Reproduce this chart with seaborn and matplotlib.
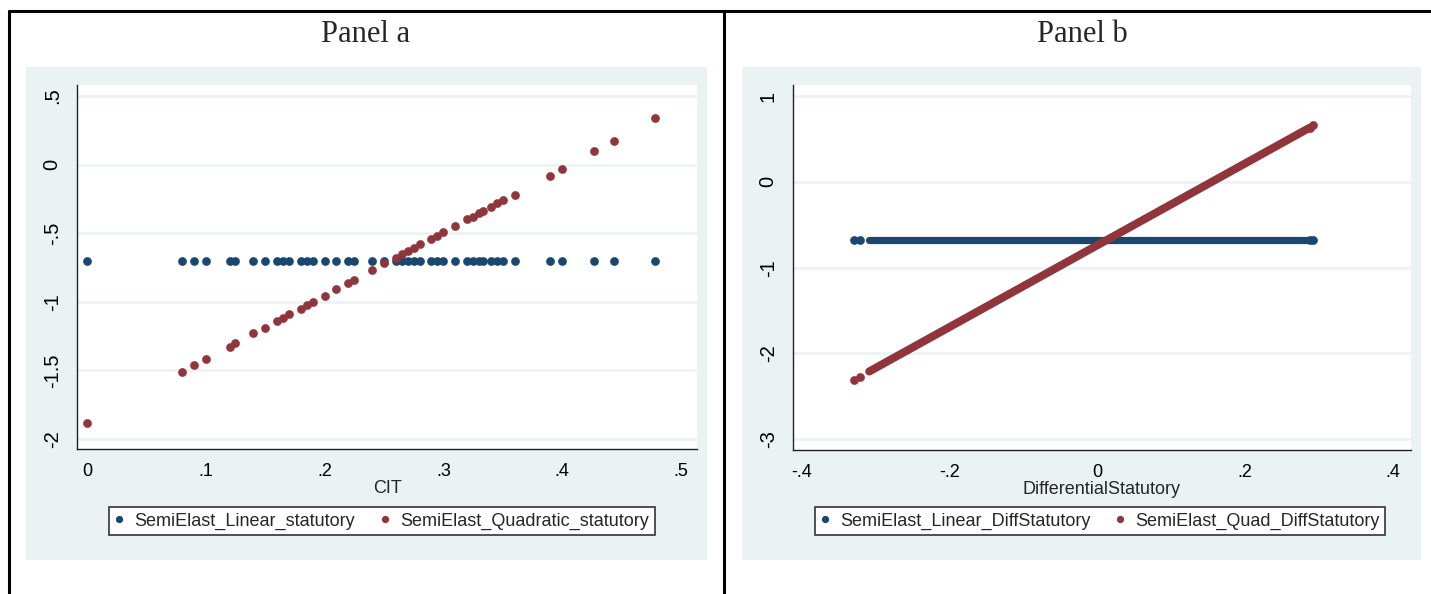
import numpy as np
import pandas as pd
import matplotlib
matplotlib.use("Agg")
import matplotlib.pyplot as plt
from matplotlib import font_manager
from matplotlib.patches import Rectangle
from matplotlib.lines import Line2D
import seaborn as sns

# ---- Panel a data (CIT vs semi-elasticities) ----
cit = [0, 0.08, 0.09, 0.10, 0.12, 0.125, 0.14, 0.15, 0.16, 0.165, 0.17, 0.18,
       0.185, 0.19, 0.20, 0.21, 0.22, 0.225, 0.24, 0.25, 0.26, 0.265, 0.27,
       0.275, 0.28, 0.29, 0.295, 0.30, 0.31, 0.32, 0.325, 0.33, 0.333, 0.34,
       0.345, 0.35, 0.36, 0.39, 0.40, 0.427, 0.444, 0.478]
semi_linear_stat = [-0.70] * len(cit)
semi_quad_stat = [-1.88, -1.51, -1.46, -1.42, -1.33, -1.30, -1.23, -1.19, -1.14,
                  -1.12, -1.09, -1.05, -1.02, -1.00, -0.96, -0.91, -0.86, -0.84,
                  -0.77, -0.72, -0.68, -0.65, -0.63, -0.61, -0.58, -0.54, -0.52,
                  -0.49, -0.45, -0.40, -0.38, -0.35, -0.34, -0.31, -0.28, -0.26,
                  -0.22, -0.08, -0.03, 0.10, 0.17, 0.34]

# ---- Panel b data (DifferentialStatutory) ----
# isolated observations at the ends of the range
diff_pts = [-0.329, -0.321, 0.287, 0.292]
semi_linear_diff_pts = [-0.68, -0.68, -0.68, -0.68]
semi_quad_diff_pts = [-2.31, -2.28, 0.63, 0.66]
# dense run of observations (drawn as a band between first and last)
diff_band = [-0.308, 0.287]
semi_linear_diff_band = [-0.68, -0.68]
semi_quad_diff_band = [-2.21, 0.63]

xticks_a = [0, 0.1, 0.2, 0.3, 0.4, 0.5]
xticklabels_a = ["0", ".1", ".2", ".3", ".4", ".5"]
yticks_a = [0.5, 0, -0.5, -1, -1.5, -2]
yticklabels_a = [".5", "0", "-.5", "-1", "-1.5", "-2"]
xticks_b = [-0.4, -0.2, 0, 0.2, 0.4]
xticklabels_b = ["-.4", "-.2", "0", ".2", ".4"]
yticks_b = [1, 0, -1, -2, -3]
yticklabels_b = ["1", "0", "-1", "-2", "-3"]

NAVY = "#1A476F"
MAROON = "#90353B"
BG = "#EAF2F3"
GRID = "#EAF2F3"

sns.set_style("white")
plt.rcParams["font.family"] = ["Liberation Sans", "DejaVu Sans"]

# the reference text looks tall and narrow: use the narrow cut if present
names = {f.name for f in font_manager.fontManager.ttflist}
if "Liberation Sans Narrow" in names:
    HFONT = ["Liberation Sans Narrow", "Liberation Sans", "DejaVu Sans"]
    HSIZE = 15
else:
    HFONT = ["Liberation Sans", "DejaVu Sans"]
    HSIZE = 13
VSIZE = 14.5

W, H = 1431, 594
fig = plt.figure(figsize=(W / 100, H / 100), dpi=100)
fig.patch.set_facecolor("white")


def rect(x0, y0, x1, y1):
    return [x0 / W, 1 - y1 / H, (x1 - x0) / W, (y1 - y0) / H]


# table borders
for xs, ys in [([9 / W, 9 / W], [0, 1 - 11 / H]),
               ([724 / W, 724 / W], [0, 1 - 11 / H]),
               ([9 / W, 1], [1 - 11 / H, 1 - 11 / H])]:
    fig.add_artist(Line2D(xs, ys, color="black", lw=2.2, transform=fig.transFigure))

# graph regions
for x0, x1 in [(26, 707), (742, 1421)]:
    r = rect(x0, 67, x1, 560)
    fig.add_artist(Rectangle((r[0], r[1]), r[2], r[3], facecolor=BG,
                             edgecolor="none", transform=fig.transFigure, zorder=0))

fig.text(366 / W, 1 - 34 / H, "Panel a", ha="center", va="center",
         fontsize=22, family=["Liberation Serif", "DejaVu Serif"])
fig.text(1082 / W, 1 - 34 / H, "Panel b", ha="center", va="center",
         fontsize=22, family=["Liberation Serif", "DejaVu Serif"])


def style_axes(ax, xlim, ylim, xt, xtl, yt, ytl, xlabel):
    ax.set_facecolor("white")
    ax.set_xlim(*xlim)
    ax.set_ylim(*ylim)
    ax.set_xticks(xt)
    ax.set_xticklabels(xtl, family=HFONT, fontsize=HSIZE)
    ax.set_yticks(yt)
    ax.set_yticklabels(ytl, rotation=90, va="center", fontsize=VSIZE)
    ax.yaxis.grid(True, color=GRID, lw=1.8)
    ax.xaxis.grid(False)
    ax.set_axisbelow(True)
    for s in ["top", "right"]:
        ax.spines[s].set_visible(False)
    for s in ["left", "bottom"]:
        ax.spines[s].set_color("#222222")
        ax.spines[s].set_linewidth(1.0)
    ax.tick_params(axis="both", direction="out", length=6, width=1.0,
                   color="#222222", labelcolor="black")
    ax.tick_params(axis="y", pad=5)
    ax.tick_params(axis="x", pad=4)
    ax.set_xlabel(xlabel, fontsize=HSIZE, family=HFONT, labelpad=0)
    ax.set_ylabel("")


def add_legend(ax, handles, labels, cx, cy):
    leg = ax.legend(handles, labels, loc="center", ncol=2,
                    bbox_to_anchor=(cx / W, 1 - cy / H),
                    bbox_transform=fig.transFigure, frameon=True, fancybox=False,
                    prop={"family": HFONT, "size": HSIZE},
                    handlelength=0.5, handletextpad=0.6,
                    columnspacing=1.4, borderpad=0.3, borderaxespad=0)
    fr = leg.get_frame()
    fr.set_edgecolor("#333333")
    fr.set_linewidth(1.2)
    fr.set_facecolor("white")
    fr.set_alpha(1)


def dot(color):
    return Line2D([], [], marker="o", ls="none", markersize=4.2,
                  markerfacecolor=color, markeredgecolor=color)


# ---- Panel a ----
axa = fig.add_axes(rect(77, 85, 697, 449))
df_a = pd.DataFrame({"CIT": cit, "lin": semi_linear_stat, "quad": semi_quad_stat})
sns.scatterplot(data=df_a, x="CIT", y="lin", ax=axa, color=NAVY, s=34,
                edgecolor=NAVY, linewidth=0.4, zorder=3)
sns.scatterplot(data=df_a, x="CIT", y="quad", ax=axa, color=MAROON, s=34,
                edgecolor=MAROON, linewidth=0.4, zorder=4)
style_axes(axa, (-0.0084, 0.5135), (-2.073, 0.58), xticks_a, xticklabels_a,
           yticks_a, yticklabels_a, "CIT")
add_legend(axa, [dot(NAVY), dot(MAROON)],
           ["SemiElast_Linear_statutory", "SemiElast_Quadratic_statutory"], 382, 521)

# ---- Panel b ----
axb = fig.add_axes(rect(793, 85, 1411, 450))
df_bp = pd.DataFrame({"x": diff_pts, "lin": semi_linear_diff_pts, "quad": semi_quad_diff_pts})
df_bb = pd.DataFrame({"x": diff_band, "lin": semi_linear_diff_band, "quad": semi_quad_diff_band})
sns.lineplot(data=df_bb, x="x", y="lin", ax=axb, color=NAVY, lw=5.2,
             solid_capstyle="round", zorder=3)
sns.scatterplot(data=df_bp, x="x", y="lin", ax=axb, color=NAVY, s=34,
                edgecolor=NAVY, linewidth=0.4, zorder=3)
sns.lineplot(data=df_bb, x="x", y="quad", ax=axb, color=MAROON, lw=5.8,
             solid_capstyle="round", zorder=4)
sns.scatterplot(data=df_bp, x="x", y="quad", ax=axb, color=MAROON, s=34,
                edgecolor=MAROON, linewidth=0.4, zorder=4)
style_axes(axb, (-0.411, 0.424), (-3.125, 1.128), xticks_b, xticklabels_b,
           yticks_b, yticklabels_b, "DifferentialStatutory")
add_legend(axb, [dot(NAVY), dot(MAROON)],
           ["SemiElast_Linear_DiffStatutory", "SemiElast_Quad_DiffStatutory"], 1100, 521)

fig.savefig("out.png", dpi=100)
